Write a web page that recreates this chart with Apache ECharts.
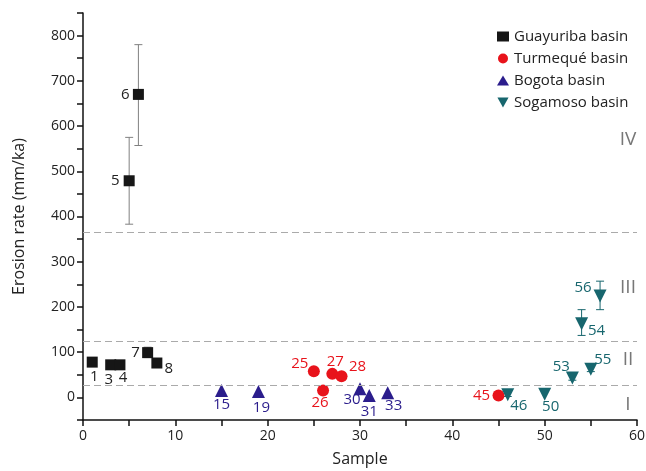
<!DOCTYPE html>
<html>
<head>
<meta charset="utf-8">
<script src="https://cdn.jsdelivr.net/npm/echarts@6/dist/echarts.min.js"></script>
<style>
  html, body { margin: 0; padding: 0; background: #fff; }
  #chart { width: 646px; height: 471px; }
</style>
</head>
<body>
<div id="chart"></div>
<script>
// [sample, erosion rate (mm/ka)]
const guayuriba = [[1, 78], [3, 72], [4, 72], [5, 479], [6, 670], [7, 99], [8, 76]];
const turmeque = [[25, 58], [26, 15], [27, 52], [28, 47], [45, 4]];
const bogota = [[15, 15], [19, 13], [30, 19], [31, 4], [33, 10]];
const sogamoso = [[46, 6], [50, 7], [53, 43], [54, 163], [55, 62], [56, 224]];
// [sample, low, high]
const guayuribaErr = [[5, 383, 575], [6, 557, 780], [7, 88, 111]];
const sogamosoErr = [[46, 2, 14], [53, 38, 52], [54, 137, 194], [55, 57, 70], [56, 194, 257]];
// class boundaries (mm/ka)
const classBounds = [27, 125, 365];

// label offset from marker centre, px
const labelOffset = {
  1: [2, 15], 3: [-2, 15], 4: [3, 13], 5: [-14, 0], 6: [-13, 0], 7: [-12, 0], 8: [12, 6],
  15: [0, 14], 19: [3, 16], 30: [-8, 11], 31: [0, 16], 33: [6, 13],
  25: [-14, -7], 26: [-3, 12], 27: [3, -12], 28: [16, -9], 45: [-17, 0],
  46: [11, 11], 50: [6, 13], 53: [-11, -11], 55: [12, -10], 54: [15, 7], 56: [-17, -8]
};

const FONT = '"Open Sans", sans-serif';
const colors = { g: '#161616', t: '#e8131b', b: '#2b1d8c', s: '#17666e' };

function withLabels(arr, color) {
  return arr.map(d => ({
    value: d,
    label: {
      show: true, position: 'inside', formatter: String(d[0]),
      offset: labelOffset[d[0]] || [0, 14],
      color: color, fontSize: 15, fontFamily: FONT
    }
  }));
}

function errSeries(data, color) {
  return {
    type: 'custom',
    data: data,
    z: 1,
    silent: true,
    renderItem: function (params, api) {
      const x = api.value(0);
      const lo = api.coord([x, api.value(1)]);
      const hi = api.coord([x, api.value(2)]);
      const w = 4;
      const st = { stroke: color, lineWidth: 1 };
      return {
        type: 'group',
        children: [
          { type: 'line', shape: { x1: lo[0], y1: lo[1], x2: hi[0], y2: hi[1] }, style: st },
          { type: 'line', shape: { x1: lo[0] - w, y1: lo[1], x2: lo[0] + w, y2: lo[1] }, style: st },
          { type: 'line', shape: { x1: hi[0] - w, y1: hi[1], x2: hi[0] + w, y2: hi[1] }, style: st }
        ]
      };
    }
  };
}

const chart = echarts.init(document.getElementById('chart'));
chart.setOption({
  animation: false,
  textStyle: { fontFamily: FONT },
  grid: { left: 83, right: 9, top: 13, bottom: 51, outerBoundsMode: 'none', containLabel: false },
  legend: {
    orient: 'vertical',
    left: 492, top: 24,
    itemWidth: 12, itemHeight: 10, itemGap: 7,
    textStyle: { fontSize: 15, color: '#222', fontFamily: FONT },
    data: [
      { name: 'Guayuriba basin', icon: 'rect' },
      { name: 'Turmequé basin', icon: 'circle' },
      { name: 'Bogota basin', icon: 'triangle' },
      { name: 'Sogamoso basin', icon: 'path://M0,0 L10,0 L5,9 Z' }
    ]
  },
  xAxis: {
    type: 'value', min: 0, max: 60, interval: 5,
    name: 'Sample', nameLocation: 'middle', nameGap: 31,
    nameTextStyle: { fontSize: 16, color: '#222', fontFamily: FONT },
    axisLine: { onZero: false, lineStyle: { color: '#111', width: 1.5 } },
    axisTick: { length: 6, lineStyle: { color: '#111', width: 1.5 } },
    axisLabel: {
      color: '#222', fontSize: 14, margin: 9, fontFamily: FONT,
      formatter: v => (v % 10 === 0 ? String(v) : '')
    },
    splitLine: { show: false }
  },
  yAxis: {
    type: 'value', min: -50, max: 850, interval: 50,
    name: 'Erosion rate (mm/ka)', nameLocation: 'middle', nameGap: 56,
    nameTextStyle: { fontSize: 16, color: '#222', fontFamily: FONT },
    axisLine: { show: true, onZero: false, lineStyle: { color: '#111', width: 1.5 } },
    axisTick: { show: true, length: 6, lineStyle: { color: '#111', width: 1.5 } },
    axisLabel: {
      color: '#222', fontSize: 14, margin: 8, fontFamily: FONT,
      formatter: v => (v % 100 === 0 ? String(v) : '')
    },
    splitLine: { show: false }
  },
  graphic: [
    { type: 'text', x: 628, y: 140, style: { text: 'IV', fill: '#777', font: '19px ' + FONT, align: 'center', verticalAlign: 'middle' } },
    { type: 'text', x: 628, y: 288, style: { text: 'III', fill: '#777', font: '19px ' + FONT, align: 'center', verticalAlign: 'middle' } },
    { type: 'text', x: 628, y: 360, style: { text: 'II', fill: '#777', font: '19px ' + FONT, align: 'center', verticalAlign: 'middle' } },
    { type: 'text', x: 628, y: 405, style: { text: 'I', fill: '#777', font: '19px ' + FONT, align: 'center', verticalAlign: 'middle' } }
  ],
  series: [
    errSeries(guayuribaErr, '#808080'),
    errSeries(sogamosoErr, colors.s),
    {
      name: 'Guayuriba basin', type: 'scatter', symbol: 'rect', symbolSize: 11, z: 3,
      itemStyle: { color: colors.g, opacity: 1 },
      data: withLabels(guayuriba, '#222'),
      markLine: {
        silent: true, symbol: 'none',
        lineStyle: { color: '#aaa', type: [7, 4], width: 1.2 },
        label: { show: false },
        data: classBounds.map(v => ({ yAxis: v }))
      }
    },
    {
      name: 'Turmequé basin', type: 'scatter', symbol: 'circle', symbolSize: 12, z: 3,
      itemStyle: { color: colors.t, opacity: 1 },
      data: withLabels(turmeque, colors.t)
    },
    {
      name: 'Bogota basin', type: 'scatter', symbol: 'triangle', symbolSize: 13, z: 3,
      itemStyle: { color: colors.b, opacity: 1 },
      data: withLabels(bogota, colors.b)
    },
    {
      name: 'Sogamoso basin', type: 'scatter', symbol: 'triangle', symbolRotate: 180, symbolSize: 13, z: 3,
      itemStyle: { color: colors.s, opacity: 1 },
      data: withLabels(sogamoso, colors.s)
    }
  ]
});
</script>
</body>
</html>
